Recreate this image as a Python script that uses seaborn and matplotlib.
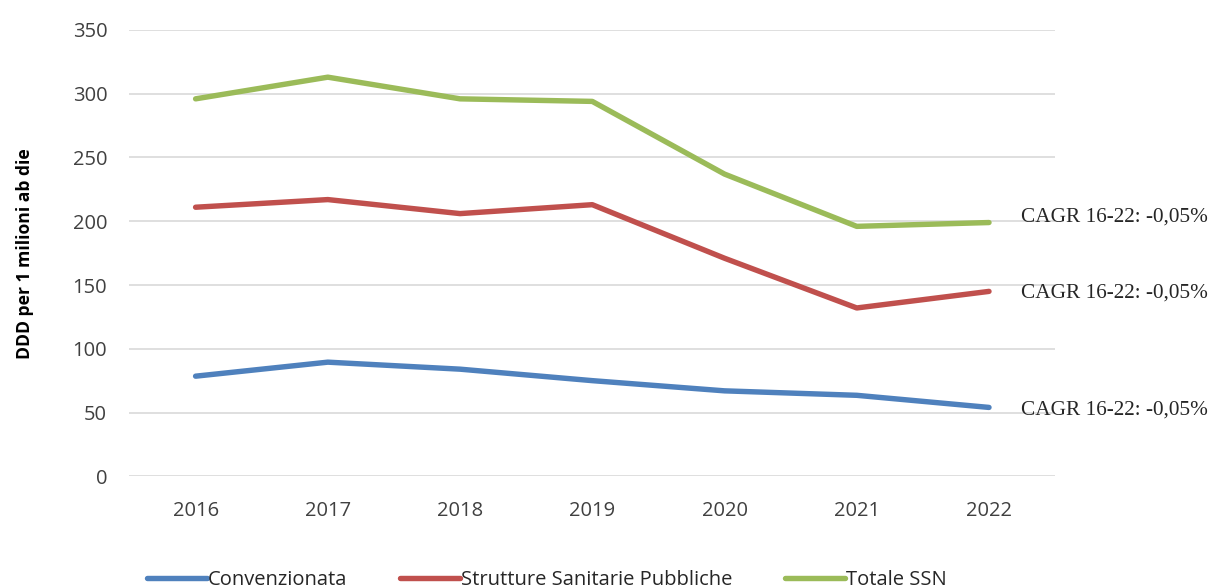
import pandas as pd
import numpy as np
import matplotlib.pyplot as plt
import seaborn as sns

# valori
anni = ['2016', '2017', '2018', '2019', '2020', '2021', '2022']
convenzionata = [78.5, 89.5, 84, 75, 67, 63.5, 54]
strutture = [211, 217, 206, 213, 171, 132, 145]
totale = [296, 313, 296, 294, 237, 196, 199]
serie = ['Convenzionata', 'Strutture Sanitarie Pubbliche', 'Totale SSN']
cagr = ['CAGR 16-22: -0,05%', 'CAGR 16-22: -0,05%', 'CAGR 16-22: -0,05%']

df = pd.DataFrame({
    'anno': anni * 3,
    'valore': convenzionata + strutture + totale,
    'serie': [serie[0]] * 7 + [serie[1]] * 7 + [serie[2]] * 7,
})

sns.set_style('white')
plt.rcParams['font.family'] = ['Open Sans', 'DejaVu Sans']

colori = ['#4F81BD', '#C0504D', '#9BBB59']

fig = plt.figure(figsize=(12.1, 5.88), dpi=100)
ax = fig.add_axes([0.107, 0.190, 0.765, 0.759])

sns.lineplot(data=df, x='anno', y='valore', hue='serie', palette=colori,
             linewidth=3.9, sort=False, ax=ax, legend=False)

ax.set_ylim(0, 350)
ax.set_xlim(-0.5, 6.5)
ax.set_yticks(np.arange(0, 351, 50))
ax.yaxis.grid(True, color='#D9D9D9', linewidth=1.2)
ax.set_axisbelow(True)
for s in ax.spines.values():
    s.set_visible(False)
ax.tick_params(axis='both', length=0, labelsize=14.5, colors='#404040')
ax.tick_params(axis='x', pad=18)
ax.tick_params(axis='y', pad=16)
ax.set_xlabel('')
ax.set_ylabel('DDD per 1 milioni ab die', fontsize=12.6, fontweight='bold',
              color='black', labelpad=28)

# etichette CAGR a destra
ultimi = [convenzionata[-1], strutture[-1], totale[-1]]
spost = [-2, -1, 4]
for v, d, t in zip(ultimi, spost, cagr):
    ax.annotate(t, xy=(6, v + d), xytext=(23, 0), textcoords='offset points',
                va='center', ha='left', fontsize=15.3,
                family='Liberation Serif', annotation_clip=False)

handles = [plt.Line2D([0], [0], color=c, linewidth=3.9) for c in colori]
fig.legend(handles, serie, loc='center', bbox_to_anchor=(0.452, 0.014),
           ncol=3, frameon=False, fontsize=14.5, handlelength=3.0,
           columnspacing=2.6, handletextpad=0.05)

fig.savefig('out.png', dpi=100)
